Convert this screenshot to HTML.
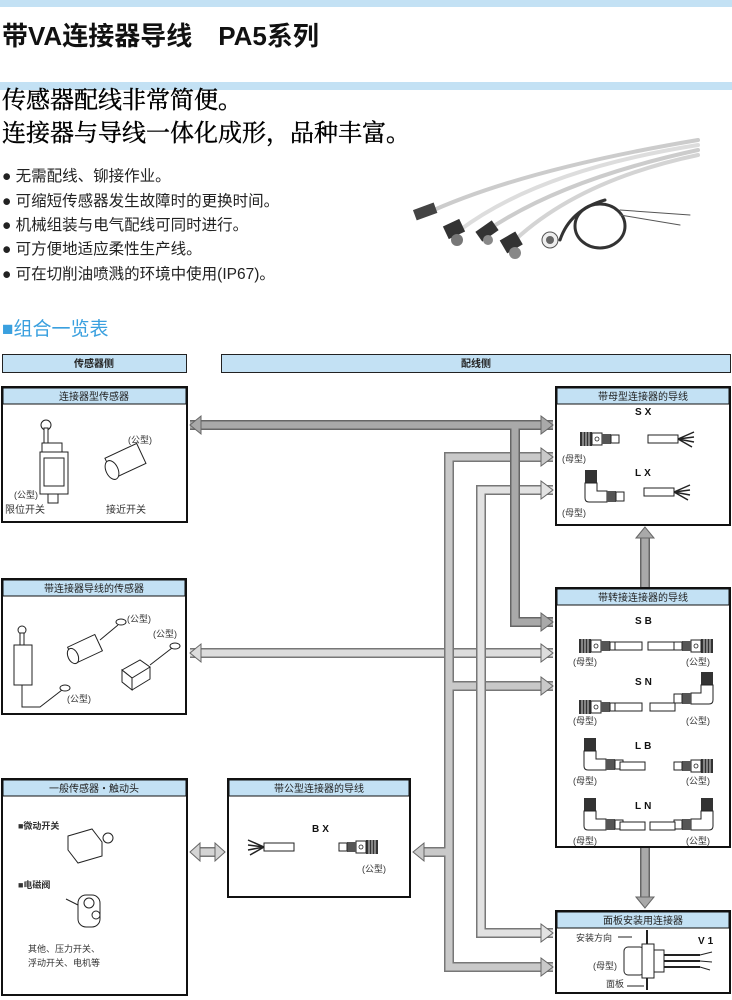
<!DOCTYPE html>
<html><head><meta charset="utf-8">
<style>
html,body{margin:0;padding:0;background:#fff;}
svg{display:block;}
text{font-family:"Liberation Sans","Noto Sans CJK SC",sans-serif;}
.s{font-family:"Liberation Serif","Noto Serif CJK SC",serif;}
.h{font-size:10px;fill:#222;}
.l{font-size:9px;fill:#333;}
.m{font-size:10px;font-weight:bold;fill:#111;letter-spacing:3px;}
</style></head><body>
<svg width="732" height="1000" viewBox="0 0 732 1000" xmlns="http://www.w3.org/2000/svg">
<defs>
<g id="fc">
<rect x="0" y="0" width="12" height="14" fill="#333"/>
<line x1="3" y1="0" x2="3" y2="14" stroke="#fff" stroke-width="0.8"/>
<line x1="6" y1="0" x2="6" y2="14" stroke="#fff" stroke-width="0.8"/>
<line x1="9" y1="0" x2="9" y2="14" stroke="#fff" stroke-width="0.8"/>
<rect x="12" y="1" width="10" height="12" fill="#fff" stroke="#222"/>
<circle cx="17" cy="7" r="2" fill="none" stroke="#222" stroke-width="0.8"/>
<rect x="22" y="2" width="9" height="10" fill="#555"/>
<rect x="31" y="3" width="8" height="8" fill="#fff" stroke="#222"/>
</g>
<g id="wires">
<rect x="0" y="3" width="30" height="8" fill="#fff" stroke="#222"/>
<path d="M30 7 L46 0 M30 7 L46 5 M30 7 L46 10 M30 7 L44 15" stroke="#222" stroke-width="1.5"/>
</g>
<g id="lc">
<rect x="0" y="0" width="12" height="13" fill="#333"/>
<path d="M0 13 L0 28 Q0 32 4 32 L22 32 L22 21 L12 21 L12 13 Z" fill="#fff" stroke="#222"/>
<rect x="22" y="21" width="9" height="11" fill="#555"/>
<rect x="31" y="22" width="8" height="9" fill="#fff" stroke="#222"/>
</g>
</defs>

<rect x="0" y="0" width="732" height="7" fill="#c3e1f4"/>
<rect x="0" y="82" width="732" height="8" fill="#c3e1f4"/>
<text x="2" y="45" font-size="26" font-weight="bold" fill="#111">带VA连接器导线　PA5系列</text>

<text x="2" y="108" class="s" font-size="24" fill="#000" stroke="#000" stroke-width="0.4">传感器配线非常简便。</text>
<text x="2" y="141" class="s" font-size="24" fill="#000" stroke="#000" stroke-width="0.4">连接器与导线一体化成形，品种丰富。</text>

<g font-size="15.5" fill="#222">
<text x="2" y="181">● 无需配线、铆接作业。</text>
<text x="2" y="206">● 可缩短传感器发生故障时的更换时间。</text>
<text x="2" y="230">● 机械组装与电气配线可同时进行。</text>
<text x="2" y="254">● 可方便地适应柔性生产线。</text>
<text x="2" y="279">● 可在切削油喷溅的环境中使用(IP67)。</text>
</g>

<g fill="none" stroke-linecap="round">
<path d="M425 214 Q520 170 698 140" stroke="#ccc" stroke-width="4"/>
<path d="M460 230 Q540 170 698 145" stroke="#ddd" stroke-width="4"/>
<path d="M485 232 Q560 180 698 150" stroke="#ccc" stroke-width="4"/>
<path d="M515 240 Q580 180 698 155" stroke="#d4d4d4" stroke-width="4"/>
<ellipse cx="600" cy="226" rx="25" ry="22" stroke="#333" stroke-width="3"/>
<path d="M560 240 Q570 210 605 200" stroke="#333" stroke-width="3"/>
<path d="M620 210 L690 215 M620 215 L680 225" stroke="#555" stroke-width="1"/>
</g>
<rect x="414" y="206" width="22" height="11" fill="#444" transform="rotate(-20 425 211)"/>
<rect x="445" y="222" width="18" height="14" fill="#333" transform="rotate(-25 454 229)"/>
<circle cx="457" cy="240" r="6" fill="#777"/>
<rect x="477" y="225" width="20" height="12" fill="#333" transform="rotate(-35 487 231)"/>
<circle cx="488" cy="240" r="5" fill="#888"/>
<rect x="502" y="235" width="18" height="15" fill="#333" transform="rotate(-30 511 242)"/>
<circle cx="515" cy="253" r="6" fill="#888"/>
<circle cx="550" cy="240" r="8" fill="#eee" stroke="#555"/>
<circle cx="550" cy="240" r="4" fill="#666"/>

<text x="2" y="335" font-size="19" fill="#3aa0df">■组合一览表</text>

<rect x="2.5" y="354.5" width="184" height="18" fill="#c3e1f4" stroke="#222"/>
<text x="94" y="367" text-anchor="middle" class="h" font-weight="bold">传感器侧</text>
<rect x="221.5" y="354.5" width="509" height="18" fill="#c3e1f4" stroke="#222"/>
<text x="476" y="367" text-anchor="middle" class="h" font-weight="bold">配线侧</text>

<g stroke-linejoin="miter">
<g fill="none">
<path d="M190 653 L553 653" stroke="#777" stroke-width="10"/>
<path d="M190 653 L553 653" stroke="#ddd" stroke-width="7"/>
<path d="M553 457 L449 457 L449 967 L553 967 M449 852 L418 852 M449 686 L553 686" stroke="#777" stroke-width="10"/>
<path d="M553 457 L449 457 L449 967 L553 967 M449 852 L418 852 M449 686 L553 686" stroke="#c9c9c9" stroke-width="7"/>
<path d="M553 490 L481 490 L481 933 L553 933" stroke="#777" stroke-width="10"/>
<path d="M553 490 L481 490 L481 933 L553 933" stroke="#e2e2e2" stroke-width="7"/>
<path d="M190 425 L553 425 M515 425 L515 622 L553 622" stroke="#666" stroke-width="10"/>
<path d="M190 425 L553 425 M515 425 L515 622 L553 622" stroke="#a9a9a9" stroke-width="7"/>
<path d="M645 590 L645 535 M645 848 L645 900" stroke="#666" stroke-width="10"/>
<path d="M645 590 L645 535 M645 848 L645 900" stroke="#a9a9a9" stroke-width="7"/>
<path d="M198 852 L218 852" stroke="#777" stroke-width="10"/>
<path d="M198 852 L218 852" stroke="#d4d4d4" stroke-width="7"/>
</g>
<g stroke="#666" stroke-width="1">
<polygon points="190,425 201,416 201,434" fill="#a9a9a9"/>
<polygon points="553,425 541,416 541,434" fill="#a9a9a9"/>
<polygon points="553,622 541,613 541,631" fill="#a9a9a9"/>
<polygon points="553,457 541,448 541,466" fill="#c9c9c9"/>
<polygon points="553,490 541,481 541,499" fill="#e2e2e2"/>
<polygon points="190,653 201,644 201,662" fill="#ddd"/>
<polygon points="553,653 541,644 541,662" fill="#ddd"/>
<polygon points="553,686 541,677 541,695" fill="#c9c9c9"/>
<polygon points="553,933 541,924 541,942" fill="#e2e2e2"/>
<polygon points="553,967 541,958 541,976" fill="#c9c9c9"/>
<polygon points="413,852 424,843 424,861" fill="#c9c9c9"/>
<polygon points="190,852 200,843 200,861" fill="#d4d4d4"/>
<polygon points="225,852 215,843 215,861" fill="#d4d4d4"/>
<polygon points="645,527 636,538 654,538" fill="#a9a9a9"/>
<polygon points="645,908 636,897 654,897" fill="#a9a9a9"/>
</g>
</g>

<g fill="#fff" stroke="#111" stroke-width="2">
<rect x="2" y="387" width="185" height="135"/>
<rect x="2" y="579" width="184" height="135"/>
<rect x="2" y="779" width="185" height="216"/>
<rect x="228" y="779" width="182" height="118"/>
<rect x="556" y="387" width="174" height="138"/>
<rect x="556" y="588" width="174" height="259"/>
<rect x="556" y="911" width="174" height="82"/>
</g>
<g fill="#c3e1f4" stroke="#111" stroke-width="1">
<rect x="3" y="388" width="183" height="16"/>
<rect x="3" y="580" width="182" height="16"/>
<rect x="3" y="780" width="183" height="16"/>
<rect x="229" y="780" width="180" height="16"/>
<rect x="557" y="388" width="172" height="16"/>
<rect x="557" y="589" width="172" height="16"/>
<rect x="557" y="912" width="172" height="16"/>
</g>
<g text-anchor="middle">
<text x="94" y="400" class="h">连接器型传感器</text>
<text x="94" y="592" class="h">带连接器导线的传感器</text>
<text x="94" y="792" class="h">一般传感器・触动头</text>
<text x="319" y="792" class="h">带公型连接器的导线</text>
<text x="643" y="400" class="h">带母型连接器的导线</text>
<text x="643" y="601" class="h">带转接连接器的导线</text>
<text x="643" y="924" class="h">面板安装用连接器</text>
</g>

<g stroke="#222" fill="#fff">
<circle cx="46" cy="425" r="5"/>
<rect x="44" y="428" width="4" height="18"/>
<rect x="42" y="443" width="20" height="10"/>
<rect x="40" y="452" width="28" height="42"/>
<rect x="44" y="458" width="20" height="28"/>
<rect x="48" y="494" width="10" height="9"/>
<rect x="108" y="450" width="35" height="22" transform="rotate(-25 125 461)"/>
<ellipse cx="112" cy="470" rx="6" ry="10" transform="rotate(-25 112 470)"/>
</g>
<g class="l">
<text x="128" y="443">(公型)</text>
<text x="14" y="498">(公型)</text>
<text x="5" y="513" font-size="10">限位开关</text>
<text x="106" y="513" font-size="10">接近开关</text>
</g>

<g stroke="#222" fill="#fff">
<circle cx="22" cy="630" r="4"/>
<rect x="20" y="633" width="4" height="14"/>
<rect x="14" y="645" width="18" height="40"/>
<path d="M22 685 L22 707 L40 707 L62 690" fill="none"/>
<ellipse cx="65" cy="688" rx="5" ry="3"/>
<rect x="70" y="640" width="30" height="18" transform="rotate(-25 85 649)"/>
<ellipse cx="73" cy="656" rx="5" ry="8" transform="rotate(-25 73 656)"/>
<path d="M100 640 L118 625" fill="none"/>
<ellipse cx="121" cy="622" rx="5" ry="3"/>
<path d="M122 670 L140 660 L150 667 L132 678 Z"/>
<path d="M122 670 L122 682 L132 690 L132 678 Z"/>
<path d="M132 690 L150 679 L150 667" fill="none"/>
<path d="M150 665 L172 648" fill="none"/>
<ellipse cx="175" cy="646" rx="5" ry="3"/>
</g>
<g class="l">
<text x="127" y="622">(公型)</text>
<text x="153" y="637">(公型)</text>
<text x="67" y="702">(公型)</text>
</g>

<g class="l" font-size="10" fill="#111">
<text x="18" y="829" font-weight="bold">■微动开关</text>
<text x="18" y="888" font-weight="bold">■电磁阀</text>
<text x="28" y="952">其他、压力开关、</text>
<text x="28" y="966">浮动开关、电机等</text>
</g>
<g stroke="#222" fill="#fff">
<path d="M68 836 L92 829 L102 842 L102 856 L78 863 L68 850 Z"/>
<circle cx="108" cy="838" r="5"/>
<rect x="78" y="895" width="22" height="32" rx="8"/>
<circle cx="89" cy="903" r="5"/>
<circle cx="96" cy="915" r="4"/>
<path d="M78 905 L66 899" fill="none"/>
</g>

<text x="312" y="832" class="m">BX</text>
<g transform="translate(248,840)"><use href="#wires" transform="scale(-1,1) translate(-46,0)"/></g>
<g transform="translate(378,840) scale(-1,1)"><use href="#fc"/></g>
<text x="362" y="872" class="l">(公型)</text>

<text x="635" y="415" class="m">SX</text>
<use href="#fc" x="580" y="432"/>
<use href="#wires" x="648" y="432"/>
<text x="562" y="462" class="l">(母型)</text>
<text x="635" y="476" class="m">LX</text>
<use href="#lc" x="585" y="470"/>
<use href="#wires" x="644" y="485"/>
<text x="562" y="516" class="l">(母型)</text>

<text x="635" y="624" class="m">SB</text>
<use href="#fc" x="579" y="639"/>
<g transform="translate(713,639) scale(-1,1)"><use href="#fc"/></g>
<rect x="615" y="642" width="27" height="8" fill="#fff" stroke="#222"/>
<rect x="648" y="642" width="26" height="8" fill="#fff" stroke="#222"/>
<text x="573" y="665" class="l">(母型)</text><text x="686" y="665" class="l">(公型)</text>

<text x="635" y="685" class="m">SN</text>
<use href="#fc" x="579" y="700"/>
<rect x="615" y="703" width="27" height="8" fill="#fff" stroke="#222"/>
<g transform="translate(713,672) scale(-1,1)"><use href="#lc"/></g>
<rect x="650" y="703" width="25" height="8" fill="#fff" stroke="#222"/>
<text x="573" y="724" class="l">(母型)</text><text x="686" y="724" class="l">(公型)</text>

<text x="635" y="749" class="m">LB</text>
<use href="#lc" x="584" y="738"/>
<rect x="620" y="762" width="25" height="8" fill="#fff" stroke="#222"/>
<g transform="translate(713,759) scale(-1,1)"><use href="#fc"/></g>
<text x="573" y="784" class="l">(母型)</text><text x="686" y="784" class="l">(公型)</text>

<text x="635" y="809" class="m">LN</text>
<use href="#lc" x="584" y="798"/>
<rect x="620" y="822" width="25" height="8" fill="#fff" stroke="#222"/>
<g transform="translate(713,798) scale(-1,1)"><use href="#lc"/></g>
<rect x="650" y="822" width="25" height="8" fill="#fff" stroke="#222"/>
<text x="573" y="844" class="l">(母型)</text><text x="686" y="844" class="l">(公型)</text>

<g class="l" fill="#111">
<text x="576" y="941">安装方向</text>
<text x="593" y="969">(母型)</text>
<text x="606" y="987">面板</text>
</g>
<text x="698" y="944" class="m">V1</text>
<g stroke="#222" fill="#fff">
<line x1="618" y1="937" x2="632" y2="937"/>
<line x1="627" y1="986" x2="644" y2="986"/>
<line x1="647" y1="930" x2="647" y2="990" stroke-width="2"/>
<rect x="624" y="947" width="20" height="28" rx="4"/>
<rect x="642" y="944" width="12" height="34"/>
<rect x="654" y="950" width="10" height="22"/>
<path d="M664 955 L700 955 M664 961 L700 961 M664 967 L700 967" stroke-width="2"/>
<path d="M700 955 L712 952 M700 961 L712 962 M700 967 L710 970"/>
</g>
</svg>
</body></html>
